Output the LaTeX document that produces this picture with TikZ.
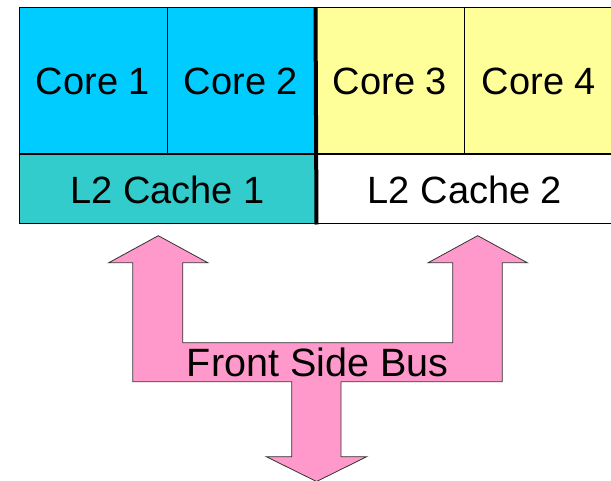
\documentclass[tikz,border=0pt]{standalone}
\usepackage{fontspec}
\setmainfont{Liberation Sans}
\usepackage{xcolor}
\definecolor{corecyan}{RGB}{0,204,255}
\definecolor{coreyellow}{RGB}{255,255,153}
\definecolor{cacheteal}{RGB}{51,204,204}
\definecolor{buspink}{RGB}{255,153,204}
\tikzstyle{core} = [rectangle, draw=black, line width=1pt, minimum width=148pt, minimum height=147pt, inner sep=0pt, font=\fontsize{38}{40}\selectfont]
\tikzstyle{cache} = [rectangle, draw=black, line width=1pt, minimum height=69pt, inner sep=0pt, font=\fontsize{38}{40}\selectfont]
\tikzstyle{bus} = [fill=buspink, draw=black!80, line width=0.8pt, line join=miter]

\begin{document}
\begin{tikzpicture}[x=1pt,y=-1pt]
    \useasboundingbox (0,0) rectangle (611,481);

    % cores
    \node (c1) [core,fill=corecyan] at (93,81.5) {Core 1};
    \node (c2) [core,fill=corecyan] at (241,81.5) {Core 2};
    \node (c3) [core,fill=coreyellow] at (390,81.5) {Core 3};
    \node (c4) [core,fill=coreyellow,minimum width=150pt] at (539,81.5) {Core 4};

    % shared caches
    \node (l1) [cache,fill=cacheteal,minimum width=297pt] at (167.5,189.5) {L2 Cache 1};
    \node (l2) [cache,fill=white,minimum width=298pt] at (465,189.5) {L2 Cache 2};

    \draw [line width=2pt] (l1.north west) -- (l2.north east);
    \draw [line width=4pt] (c2.north east) -- (l1.south east);

    % the bus, two arrows up and one down
    \draw [bus] (158.3,235.7) -- (207.8,262.7) -- (182.8,262.7) -- (182.8,342.7)
        -- (452.7,342.7) -- (452.7,262.7) -- (428.2,262.7) -- (477.7,235.7)
        -- (527.2,262.7) -- (502.3,262.7) -- (502.3,381.7) -- (341,381.7)
        -- (341,456.7) -- (366.7,456.7) -- (316.5,481.5) -- (266.3,456.7)
        -- (291.7,456.7) -- (291.7,381.7) -- (132.8,381.7) -- (132.8,262.7)
        -- (108.8,262.7) -- cycle;
    \node (fsb) at (317.5,362.5) {\fontsize{39.5}{41}\selectfont Front Side Bus};
\end{tikzpicture}
\end{document}
